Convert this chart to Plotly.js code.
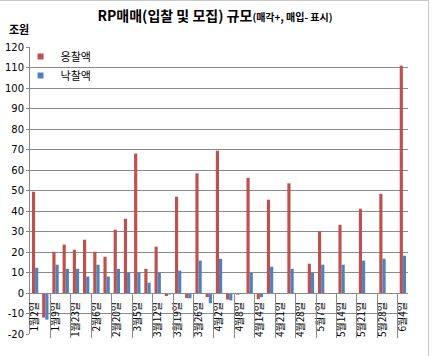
<!DOCTYPE html>
<html>
<head>
<meta charset="utf-8">
<script src="https://cdn.plot.ly/plotly-3.0.1.min.js"></script>
<style>
  html, body { margin: 0; padding: 0; background: #fff; }
  #frame { position: absolute; left: -1px; top: 0; width: 429px; height: 400px;
           border-top: 1px solid #c9c9c9; border-right: 1px solid #c9c9c9; }
  #chart { position: absolute; left: 0; top: 0; width: 433px; height: 356px; }
</style>
</head>
<body>
<div id="frame"></div>
<div id="chart"></div>
<script>
// Tick labels shown on the category axis (every other auction date)
const tickLabels = ['1월2일','1월9일','1월23일','2월6일','2월20일','3월5일','3월12일','3월19일','3월26일',
  '4월2일','4월8일','4월14일','4월21일','4월28일','5월7일','5월14일','5월21일','5월28일','6월4일'];

// 응찰액 (bid amount, 조원) for each of the 37 auctions
const bidAmount = [49.4, -12, 20.1, 23.6, 21.1, 26, 20.1, 17.7, 30.9, 36.2,
  68, 11.8, 22.6, -1.5, 47, -2.5, 58.4, -2, 69.4, -3.2,
  -0.8, 56.2, -3, 45.5, -0.3, 53.5, -0.3, 14.3, 30.1, -0.4,
  33.3, 0, 41.1, 0, 48.4, -0.4, 110.9];

// 낙찰액 (awarded amount, 조원)
const awardAmount = [12.3, -13, 13.8, 11.8, 11.8, 8, 13.8, 8, 11.8, 9.8,
  9.8, 5, 9.8, -0.7, 10.9, -2.6, 15.8, -5, 16.7, -3.6,
  -0.4, 9.8, -2, 12.8, -0.2, 11.8, -0.2, 9.8, 13.8, -0.3,
  13.8, 0, 15.8, 0, 16.7, -0.3, 18.2];

const yTickVals = [-20, -10, 0, 10, 20, 30, 40, 50, 60, 70, 80, 90, 100, 110, 120];
const yTickText = ['-20','-10','0','10','20','30','40','50','60','70','80','90','100','110','120'];

const seriesNames = ['응찰액', '낙찰액'];
const colors = ['#C0504D', '#4F81BD'];

const positions = bidAmount.map((_, i) => i);
const labelPositions = tickLabels.map((_, k) => 2 * k);
const groupBoundaries = tickLabels.slice(1).map((_, k) => 2 * k + 1.5);

const KR = '"Noto Sans CJK KR", "Noto Sans", sans-serif';
const GRID = '#8a8a8a';
const zeroFrac = 20 / 140;

const traces = [
  { type: 'bar', x: positions, y: bidAmount, name: seriesNames[0],
    marker: { color: colors[0] }, showlegend: false, hoverinfo: 'y' },
  { type: 'bar', x: positions, y: awardAmount, name: seriesNames[1],
    marker: { color: colors[1] }, showlegend: false, hoverinfo: 'y' },
  { type: 'scatter', x: [null], y: [null], name: seriesNames[0], mode: 'markers',
    marker: { color: colors[0], symbol: 'square', size: 6 } },
  { type: 'scatter', x: [null], y: [null], name: seriesNames[1], mode: 'markers',
    marker: { color: colors[1], symbol: 'square', size: 6 } },
  { type: 'scatter', x: [null], y: [null], xaxis: 'x2', showlegend: false, hoverinfo: 'skip' }
];

const layout = {
  width: 433, height: 356,
  margin: { l: 30, r: 25, t: 47, b: 22 },
  paper_bgcolor: 'rgba(0,0,0,0)', plot_bgcolor: 'rgba(0,0,0,0)',
  font: { family: KR, size: 10, color: '#000' },
  barmode: 'group', bargap: 0.38, bargroupgap: 0,
  title: {
    text: '<b>RP매매(입찰 및 모집) 규모<span style="font-size:10px">(매각+, 매입- 표시)</span></b>',
    font: { family: KR, size: 14, color: '#000' },
    x: 215 / 433, xref: 'container', xanchor: 'center',
    y: 1 - 16 / 356, yref: 'container', yanchor: 'middle'
  },
  xaxis: {
    range: [-0.5, 36.5], anchor: 'free', position: zeroFrac,
    tickmode: 'array', tickvals: labelPositions, ticktext: tickLabels,
    tickangle: -90, ticks: '', showgrid: false, zeroline: false,
    showline: true, linecolor: GRID, linewidth: 1,
    tickfont: { family: KR, size: 10, color: '#000' }, ticklabelstandoff: 4
  },
  xaxis2: {
    range: [-0.5, 36.5], anchor: 'free', position: zeroFrac, overlaying: 'x',
    tickmode: 'array', tickvals: groupBoundaries, ticks: 'outside', ticklen: 44,
    tickcolor: GRID, tickwidth: 1, showticklabels: false, showgrid: false,
    zeroline: false, showline: false
  },
  yaxis: {
    range: [-20, 120], tickmode: 'array', tickvals: yTickVals, ticktext: yTickText,
    showgrid: true, gridcolor: GRID, gridwidth: 1, zeroline: false,
    showline: true, linecolor: GRID, linewidth: 1,
    ticks: 'outside', ticklen: 3, tickcolor: GRID,
    tickfont: { family: '"DejaVu Sans", sans-serif', size: 10, color: '#000' }
  },
  legend: {
    x: -0.025, y: 1.017, xanchor: 'left', yanchor: 'top',
    bgcolor: 'rgba(255,255,255,0)', borderwidth: 0,
    font: { family: KR, size: 11, color: '#000' },
    tracegroupgap: 0, itemwidth: 30
  },
  annotations: [{
    text: '<b>조원</b>', xref: 'paper', yref: 'paper',
    x: (19 - 30) / 378, y: (334 - 29) / 287, xanchor: 'center', yanchor: 'middle',
    showarrow: false, font: { family: KR, size: 11, color: '#000' }
  }]
};

Plotly.newPlot('chart', traces, layout, { displayModeBar: false, staticPlot: true });
</script>
</body>
</html>
